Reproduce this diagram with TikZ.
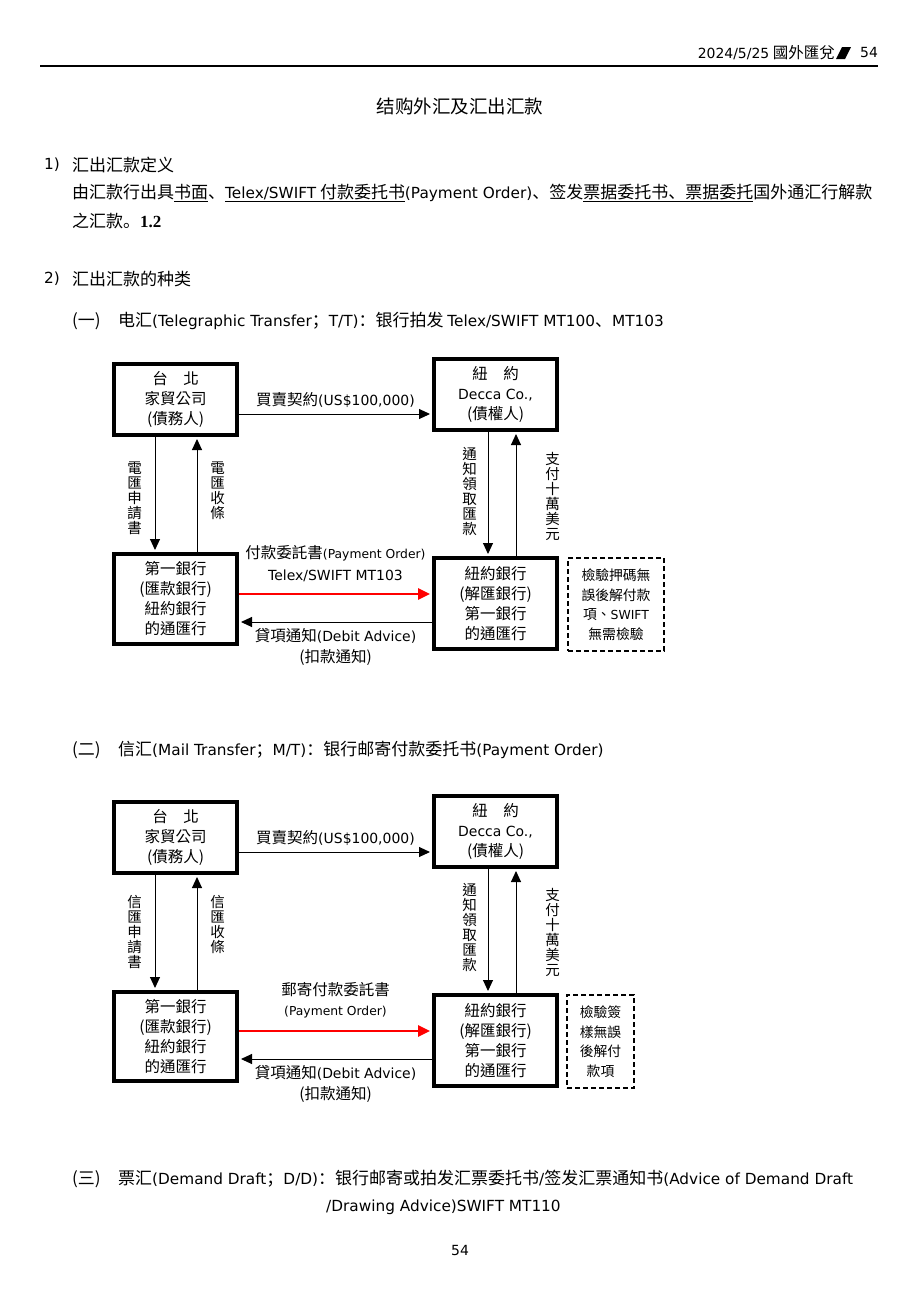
\documentclass[tikz,border=0pt]{standalone}
\usepackage{fontspec}
\setmainfont{Noto Sans CJK TC}
\newfontfamily\scfont{Noto Sans CJK SC}
\newfontfamily\lat[Scale=0.9]{DejaVu Sans}
\newfontfamily\numfont{Liberation Serif}
\usetikzlibrary{positioning,arrows.meta,calc}

\newcommand\bodyfont{\scfont\fontsize{17}{20}\selectfont}
\newcommand\boxfont{\fontsize{15.5}{20}\selectfont}
\newcommand\colfont{\fontsize{14.5}{15}\selectfont}
\newcommand\memofont{\fontsize{13.8}{19.5}\selectfont}

\tikzset{
  firm/.style={draw, line width=4pt, minimum width=123pt, minimum height=71pt, inner sep=0pt, align=center, font=\boxfont},
  bank/.style={firm, minimum height=90pt},
  memo/.style={draw, line width=1.3pt, dash pattern=on 5pt off 3pt, minimum height=93pt, inner sep=0pt, align=center, font=\memofont},
  arr/.style={-{Triangle[length=11pt,width=10pt]}, line width=1pt, shorten >=2pt},
  redarr/.style={-{Triangle[length=12pt,width=11pt]}, line width=2.6pt, red, shorten >=2pt},
  col/.style={align=center, inner sep=0pt, font=\colfont, anchor=north},
  lbl/.style={align=center, inner sep=0pt, font=\boxfont, text=black},
  txt/.style={anchor=west, inner sep=0pt, font=\bodyfont},
}

\begin{document}
\begin{tikzpicture}[x=1pt, y=-1pt]
  \useasboundingbox[fill=white] (0,0) rectangle (920,1302);

  % page header
  \node[anchor=east, inner sep=0pt, font=\fontsize{15.5}{18}\selectfont] (hdr) at (835,53) {{\lat 2024/5/25} 國外匯兌};
  \fill (836,59) -- (842,47) -- (851,47) -- (845,59) -- cycle;
  \node[anchor=west, inner sep=0pt, font=\fontsize{15.5}{18}\selectfont] (hdrno) at (860,53) {\lat 54};
  \draw[line width=1.5pt] (40,66) -- (878,66);

  \node[font=\scfont\fontsize{18.5}{20}\selectfont] (title) at (460,106) {结购外汇及汇出汇款};

  % 1) definition
  \node[txt] (n1) at (44,165) {\lat 1)};
  \node[txt] (h1) at (72,165) {汇出汇款定义};
  \node[txt] (def1) at (72,193) {由汇款行出具\underline{书面}、\underline{{\lat Telex/SWIFT} 付款委托书}{\lat (Payment Order)}、签发\underline{票据委托书、票据委托}国外通汇行解款};
  \node[txt] (def2) at (72,221) {之汇款。{\numfont\bfseries 1.2}};

  % 2) kinds
  \node[txt] (n2) at (44,279) {\lat 2)};
  \node[txt] (h2) at (72,279) {汇出汇款的种类};
  \node[txt] (k1) at (72,321) {(一)};
  \node[txt] (tt) at (118,321) {电汇{\lat (Telegraphic Transfer}；{\lat T/T)}：银行拍发 {\lat Telex/SWIFT MT100}、{\lat MT103}};

  % diagram 1: T/T
  \node[firm] (ta1) at (175.5,399.5) {台　北\\家貿公司\\(債務人)};
  \node[firm] (ny1) at (495.5,394.5) {紐　約\\{\lat Decca Co.,}\\(債權人)};
  \node[bank] (fb1) at (175.5,599) {第一銀行\\(匯款銀行)\\紐約銀行\\的通匯行};
  \node[bank, minimum height=91pt] (nb1) at (495.5,603.5) {紐約銀行\\(解匯銀行)\\第一銀行\\的通匯行};
  \node[memo, minimum width=96pt] (memo1) at (616,604.5) {檢驗押碼無\\誤後解付款\\項、{\lat SWIFT}\\無需檢驗};

  \draw[arr] ([yshift=-14.5pt]ta1.east) -- node[lbl, above=6pt] {買賣契約{\lat (US\$100,000)}} ([yshift=-14.5pt]ta1.east -| ny1.west);
  \draw[arr] ([xshift=-20.5pt]ta1.south) -- ([xshift=-20.5pt]ta1.south |- fb1.north);
  \draw[arr] ([xshift=21.5pt]fb1.north) -- ([xshift=21.5pt]fb1.north |- ta1.south);
  \draw[arr] ([xshift=-7.5pt]ny1.south) -- ([xshift=-7.5pt]ny1.south |- nb1.north);
  \draw[arr] ([xshift=20.5pt]nb1.north) -- ([xshift=20.5pt]nb1.north |- ny1.south);
  \draw[redarr] ([yshift=5pt]fb1.east) -- node[lbl, above=11pt, font=\fontsize{15.5}{22}\selectfont] {付款委託書{\fontsize{13.7}{22}\selectfont\lat (Payment Order)}\\{\lat Telex/SWIFT MT103}} ([yshift=5pt]fb1.east -| nb1.west);
  \draw[arr] ([yshift=-18.5pt]nb1.west) -- node[lbl, below=6pt, font=\fontsize{15.5}{21}\selectfont] {貸項通知{\lat (Debit Advice)}\\(扣款通知)} ([yshift=-18.5pt]nb1.west -| fb1.east);

  \node[col] (c11) at (134.5,462) {電\\匯\\申\\請\\書};
  \node[col] (c12) at (217.5,462) {電\\匯\\收\\條};
  \node[col] (c13) at (469.5,447) {通\\知\\領\\取\\匯\\款};
  \node[col] (c14) at (552.5,452) {支\\付\\十\\萬\\美\\元};

  % (二) M/T
  \node[txt] (k2) at (72,750) {(二)};
  \node[txt] (mt) at (118,750) {信汇{\lat (Mail Transfer}；{\lat M/T)}：银行邮寄付款委托书{\lat (Payment Order)}};

  % diagram 2: M/T
  \node[firm] (ta2) at (175.5,837.5) {台　北\\家貿公司\\(債務人)};
  \node[firm] (ny2) at (495.5,831.5) {紐　約\\{\lat Decca Co.,}\\(債權人)};
  \node[bank, minimum height=89pt] (fb2) at (175.5,1036.5) {第一銀行\\(匯款銀行)\\紐約銀行\\的通匯行};
  \node[bank, minimum height=91pt] (nb2) at (495.5,1040.5) {紐約銀行\\(解匯銀行)\\第一銀行\\的通匯行};
  \node[memo, minimum width=67pt] (memo2) at (600.5,1041.5) {檢驗簽\\樣無誤\\後解付\\款項};

  \draw[arr] ([yshift=-14.5pt]ta2.east) -- node[lbl, above=6pt] {買賣契約{\lat (US\$100,000)}} ([yshift=-14.5pt]ta2.east -| ny2.west);
  \draw[arr] ([xshift=-20.5pt]ta2.south) -- ([xshift=-20.5pt]ta2.south |- fb2.north);
  \draw[arr] ([xshift=21.5pt]fb2.north) -- ([xshift=21.5pt]fb2.north |- ta2.south);
  \draw[arr] ([xshift=-7.5pt]ny2.south) -- ([xshift=-7.5pt]ny2.south |- nb2.north);
  \draw[arr] ([xshift=20.5pt]nb2.north) -- ([xshift=20.5pt]nb2.north |- ny2.south);
  \draw[redarr] ([yshift=5.5pt]fb2.east) -- node[lbl, above=12pt, font=\fontsize{15.5}{20}\selectfont] {郵寄付款委託書\\{\fontsize{13.7}{20}\selectfont\lat (Payment Order)}} ([yshift=5.5pt]fb2.east -| nb2.west);
  \draw[arr] ([yshift=-18.5pt]nb2.west) -- node[lbl, below=6pt, font=\fontsize{15.5}{21}\selectfont] {貸項通知{\lat (Debit Advice)}\\(扣款通知)} ([yshift=-18.5pt]nb2.west -| fb2.east);

  \node[col] (c21) at (134.5,895) {信\\匯\\申\\請\\書};
  \node[col] (c22) at (217.5,895) {信\\匯\\收\\條};
  \node[col] (c23) at (469.5,883) {通\\知\\領\\取\\匯\\款};
  \node[col] (c24) at (552.5,888) {支\\付\\十\\萬\\美\\元};

  % (三) D/D
  \node[txt] (k3) at (72,1179) {(三)};
  \node[txt] (dd) at (118,1179) {票汇{\lat (Demand Draft}；{\lat D/D)}：银行邮寄或拍发汇票委托书{\lat /}签发汇票通知书{\lat (Advice of Demand Draft}};
  \node[txt] (dd2) at (326,1207) {\lat /Drawing Advice)SWIFT MT110};

  \node[font=\fontsize{15.5}{18}\selectfont] (pgno) at (460,1250) {\lat 54};
\end{tikzpicture}
\end{document}
